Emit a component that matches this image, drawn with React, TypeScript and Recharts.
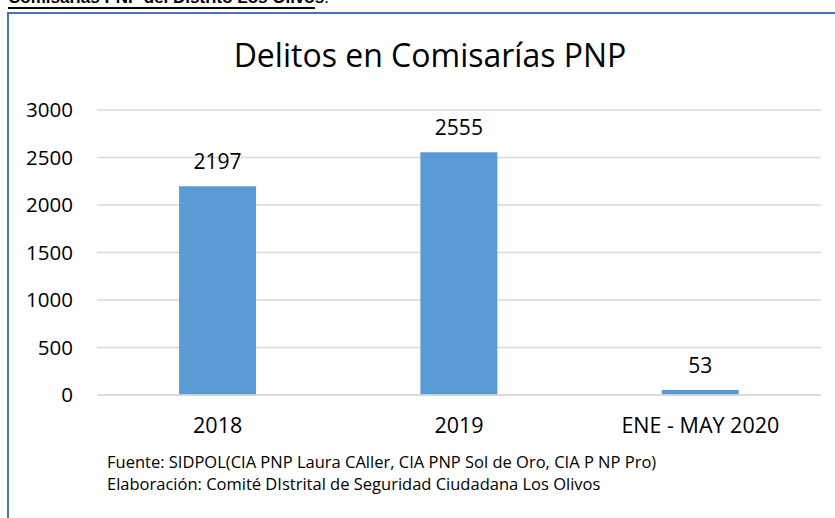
import React from 'react';
import { BarChart, Bar, XAxis, YAxis, CartesianGrid, LabelList } from 'recharts';

const categories = ['2018', '2019', 'ENE - MAY 2020'];
const delitos = [2197, 2555, 53];
const yTicks = [0, 500, 1000, 1500, 2000, 2500, 3000];

const data = categories.map((c, i) => ({ name: c, value: delitos[i] }));

const FONT = '"Open Sans", "Noto Sans", sans-serif';

export default function App() {
  return (
    <div style={{ position: 'absolute', left: 0, top: 0, width: 835, height: 518, overflow: 'hidden', background: '#fff' }}>
      <div style={{ position: 'absolute', left: 8, top: -11, fontFamily: '"Liberation Sans", Arial, sans-serif', fontWeight: 'bold', fontSize: 17, lineHeight: '17px', whiteSpace: 'nowrap', color: '#000' }}>
        Comisarías PNP del Distrito Los Olivos<span style={{ fontWeight: 'normal' }}>.</span>
      </div>
      <div style={{ position: 'absolute', left: 8, top: 7, width: 307, height: 2, background: '#000' }} />
      <div style={{ position: 'absolute', left: 7, top: 12, width: 840, height: 520, borderLeft: '2px solid #4472C4', borderTop: '2px solid #4472C4' }} />
      <div style={{ position: 'absolute', left: 0, top: 33, width: 860, textAlign: 'center', fontFamily: FONT, fontSize: 32, lineHeight: '44px', color: '#000' }}>
        Delitos en Comisarías PNP
      </div>
      <div style={{ position: 'absolute', left: 0, top: 0 }}>
        <BarChart width={835} height={518} data={data} margin={{ top: 110, right: 14, bottom: 93, left: 37 }} barCategoryGap="34%">
          <CartesianGrid vertical={false} stroke="#D9D9D9" strokeWidth={1.5} />
          <XAxis dataKey="name" axisLine={{ stroke: '#D9D9D9', strokeWidth: 1.5 }} tickLine={false} tickSize={0} tickMargin={23}
            tick={{ fill: '#000', fontSize: 21.5, fontFamily: FONT }} interval={0} />
          <YAxis width={60} domain={[0, 3000]} ticks={yTicks} axisLine={false} tickLine={false} tickSize={0} tickMargin={24}
            tick={{ fill: '#000', fontSize: 20.5, fontFamily: FONT }} interval={0} />
          <Bar dataKey="value" fill="#5B9BD5" isAnimationActive={false}>
            <LabelList dataKey="value" position="top" offset={17} style={{ fill: '#000', fontSize: 21, fontFamily: FONT }} />
          </Bar>
        </BarChart>
      </div>
      <div style={{ position: 'absolute', left: 107, top: 451, fontFamily: FONT, fontSize: 16.5, lineHeight: '22px', color: '#000', whiteSpace: 'nowrap' }}>
        <div>Fuente: SIDPOL(CIA PNP Laura CAller, CIA PNP Sol de Oro, CIA P NP Pro)</div>
        <div>Elaboración: Comité DIstrital de Seguridad Ciudadana Los Olivos</div>
      </div>
    </div>
  );
}
